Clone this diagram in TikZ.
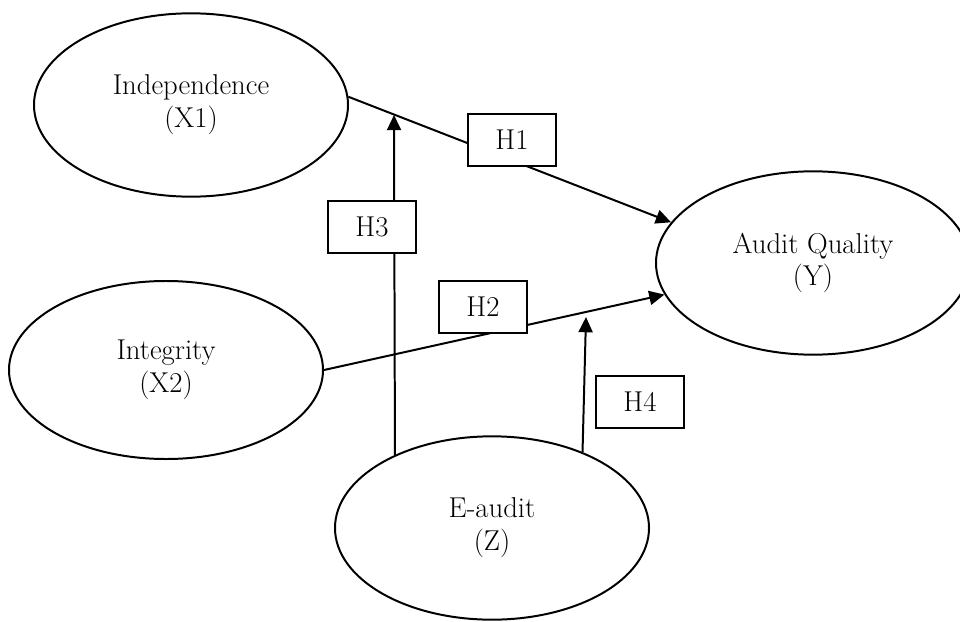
\documentclass[tikz,border=0pt]{standalone}
\usepackage{tikz}
\usetikzlibrary{arrows.meta,shapes.geometric}

\begin{document}
\begin{tikzpicture}[
  x=0.03cm, y=-0.03cm,
  >={Triangle[length=13pt,width=12pt]},
  line width=1.7pt,
  construct/.style={ellipse,draw=black,fill=white,minimum width=9.42cm,minimum height=5.5cm,
    inner sep=0pt,align=center,font=\fontsize{24.5}{28}\selectfont},
  hypo/.style={rectangle,draw=black,fill=white,minimum width=2.64cm,minimum height=1.56cm,
    inner sep=0pt,font=\fontsize{24.5}{28}\selectfont}
]

\useasboundingbox (0,0) rectangle (960,621);
\clip (0,0) rectangle (960,621);

\node[construct] (indep) at (191,105) {Independence\\(X1)};
\node[construct,minimum height=5.34cm] (integ) at (166,370) {Integrity\\(X2)};
\node[construct] (aq) at (813,263) {Audit Quality\\(Y)};
\node[construct] (eaudit) at (492,528) {E-audit\\(Z)};

\coordinate (h3top) at (394,115);
\coordinate (h4top) at (586,317);

\draw[->] (indep.3) -- (aq.164);
\draw[->] (integ.0) -- (aq.192);
\draw[->] (eaudit.143) -- (h3top);
\draw[->] (eaudit.40) -- (h4top);

\node[hypo] (h1) at (512,140) {H1};
\node[hypo] (h2) at (483,307) {H2};
\node[hypo] (h3) at (372,227) {H3};
\node[hypo] (h4) at (640,402) {H4};

\end{tikzpicture}
\end{document}
